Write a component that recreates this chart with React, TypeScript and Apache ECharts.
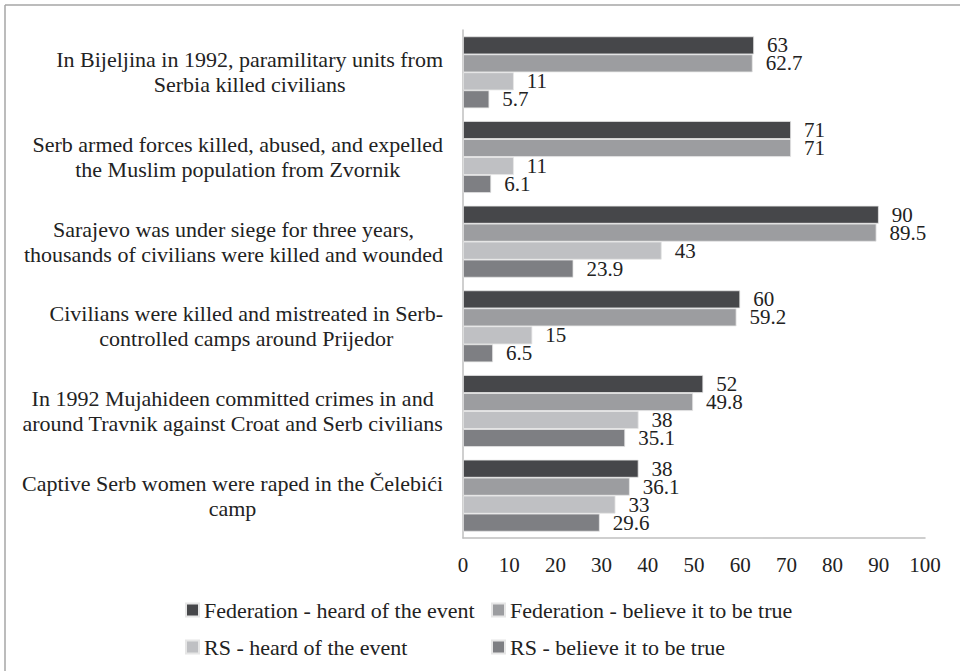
import React, { useEffect, useRef } from "react";
import * as echarts from "echarts";

const categories = [
  "In Bijeljina in 1992, paramilitary units from\nSerbia killed civilians",
  "Serb armed forces killed, abused, and expelled\nthe Muslim population from Zvornik",
  "Sarajevo was under siege for three years,\nthousands of civilians were killed and wounded",
  "Civilians were killed and mistreated in Serb-\ncontrolled camps around Prijedor",
  "In 1992 Mujahideen committed crimes in and\naround Travnik against Croat and Serb civilians",
  "Captive Serb women were raped in the Čelebići\ncamp",
];

const seriesNames = [
  "Federation - heard of the event",
  "Federation - believe it to be true",
  "RS - heard of the event",
  "RS - believe it to be true",
];

const fedHeard = [63, 71, 90, 60, 52, 38];
const fedBelieve = [62.7, 71, 89.5, 59.2, 49.8, 36.1];
const rsHeard = [11, 11, 43, 15, 38, 33];
const rsBelieve = [5.7, 6.1, 23.9, 6.5, 35.1, 29.6];

const colors = ["#46474a", "#9c9da0", "#bfc0c3", "#7e7f83"];

const FONT = "'Liberation Serif', 'Times New Roman', serif";

export default function App() {
  const ref = useRef<HTMLDivElement>(null);

  useEffect(() => {
    document.body.style.margin = "0";
    if (!ref.current) return;
    const chart = echarts.init(ref.current, null, { renderer: "svg" });
    const data = [fedHeard, fedBelieve, rsHeard, rsBelieve];
    const legendPos = [
      { left: 185, top: 599 },
      { left: 491, top: 599 },
      { left: 185, top: 636 },
      { left: 491, top: 636 },
    ];
    chart.setOption({
      animation: false,
      backgroundColor: "#ffffff",
      textStyle: { fontFamily: FONT },
      grid: { left: 463, right: 35, top: 30, bottom: 133, containLabel: false },
      xAxis: {
        type: "value",
        min: 0,
        max: 100,
        interval: 10,
        axisLine: { show: true, lineStyle: { color: "#bfbfbf", width: 1.5 } },
        axisTick: { show: false },
        splitLine: { show: false },
        axisLabel: { fontSize: 21, color: "#222", fontFamily: FONT, margin: 16 },
      },
      yAxis: {
        type: "category",
        inverse: true,
        data: categories,
        axisLine: { show: true, lineStyle: { color: "#bfbfbf", width: 1.5 } },
        axisTick: { show: false },
        axisLabel: {
          margin: 20,
          align: "right",
          fontSize: 22,
          color: "#222",
          fontFamily: FONT,
          lineHeight: 25,
          formatter: (v: string) =>
            v
              .split("\n")
              .map((l) => `{c|${l}}`)
              .join("\n"),
          rich: {
            c: { align: "center", fontSize: 22, fontFamily: FONT, color: "#222", lineHeight: 25 },
          },
        },
      },
      legend: seriesNames.map((n, i) => ({
        data: [n],
        left: legendPos[i].left,
        top: legendPos[i].top,
        icon: "rect",
        itemWidth: 13,
        itemHeight: 13,
        itemGap: 2,
        padding: 0,
        selectedMode: false,
        textStyle: { fontSize: 22, color: "#222", fontFamily: FONT },
      })),
      graphic: [
        { type: "line", shape: { x1: 5, y1: 5, x2: 960, y2: 5 }, style: { stroke: "#a6a6a6", lineWidth: 1.5 } },
        { type: "line", shape: { x1: 5, y1: 5, x2: 5, y2: 671 }, style: { stroke: "#a6a6a6", lineWidth: 1.5 } },
      ],
      series: seriesNames.map((n, i) => ({
        name: n,
        type: "bar",
        data: data[i],
        barGap: "0%",
        barCategoryGap: "15%",
        itemStyle: { color: colors[i], borderColor: "#e6e6e6", borderWidth: 0.8 },
        label: {
          show: true,
          position: "right",
          distance: 13,
          fontSize: 21,
          lineHeight: 17,
          color: "#222",
          fontFamily: FONT,
          formatter: "{c}",
        },
      })),
    });
    return () => chart.dispose();
  }, []);

  return <div ref={ref} style={{ width: 960, height: 671 }} />;
}
